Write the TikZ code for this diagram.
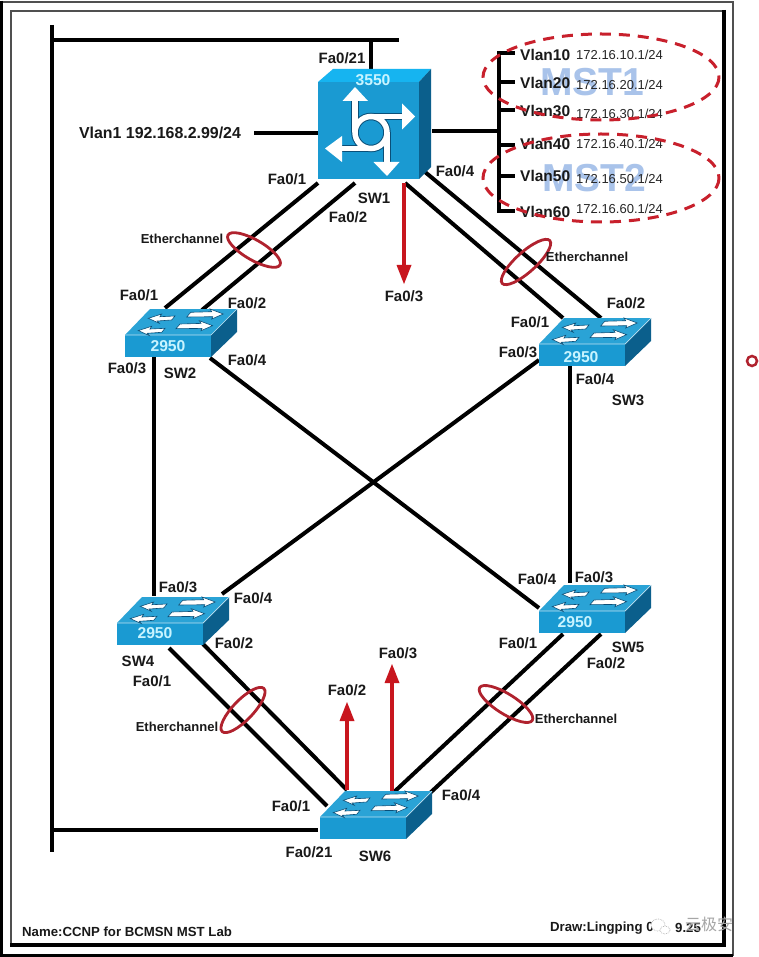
\documentclass[tikz,border=0pt]{standalone}
\usepackage{fontspec}
\setmainfont{Liberation Sans}
\newfontfamily\cjkwm{Noto Sans CJK SC}
\definecolor{ciscotop}{HTML}{2AA3D6}
\definecolor{ciscofront}{HTML}{1A9AD2}
\definecolor{ciscoside}{HTML}{0B5F8C}
\definecolor{ciscotoptwo}{HTML}{16B4F0}
\definecolor{ciscodark}{HTML}{0A4F78}
\definecolor{numtext}{HTML}{C8F4FF}
\definecolor{redline}{HTML}{C8161E}
\definecolor{ringred}{HTML}{B0222E}
\definecolor{dashred}{HTML}{C8202C}
\definecolor{msttext}{HTML}{A9C3EA}
\definecolor{framegray}{HTML}{505050}
\tikzset{
  lab/.style={inner sep=0pt,font=\fontsize{15}{15}\selectfont\bfseries,text=black!90},
  widelab/.style={inner sep=0pt,font=\fontsize{15.9}{15.9}\selectfont\bfseries,text=black!90},
  vlanlab/.style={inner sep=0pt,anchor=west,font=\fontsize{15.5}{15.5}\selectfont\bfseries,text=black!90},
  iplab/.style={inner sep=0pt,anchor=west,font=\fontsize{13}{13}\selectfont,text=black!85},
  echlab/.style={inner sep=0pt,font=\fontsize{13}{13}\selectfont\bfseries,text=black!90},
  footlab/.style={inner sep=0pt,anchor=west,font=\fontsize{13.2}{13.2}\selectfont\bfseries,text=black!90},
  numlab/.style={inner sep=0pt,font=\fontsize{15.7}{15.7}\selectfont\bfseries,text=numtext},
  mstlab/.style={inner sep=0pt,font=\fontsize{39}{39}\selectfont\bfseries,text=msttext},
  link/.style={draw=black,line width=4pt},
  redarrow/.style={draw=redline,line width=4pt},
  redhead/.style={fill=redline},
  ethring/.style={draw=ringred,line width=2.8pt},
  mstring/.style={draw=dashred,line width=3pt,dash pattern=on 11pt off 8pt},
  swarrow/.style={fill=white,draw=ciscodark,line width=.6pt},
}
% 2950 switch: #1 node name, #2 #3 front-bottom-left corner
\newcommand{\catsw}[3]{%
  \begin{scope}[shift={(#2,#3)}]
    \fill[ciscotop] (0,-22) -- (25,-48) -- (112,-48) -- (86,-22) -- cycle;
    \fill[ciscoside] (86,-22) -- (112,-48) -- (112,-25) -- (86,0) -- cycle;
    \fill[ciscofront] (0,-22) rectangle (86,0);
    \draw[white!70!ciscotop,line width=.7pt] (0,-22) -- (86,-22) -- (112,-48);
    \foreach \dx/\dy in {0/0,-10/12.3}{
      \draw[swarrow,shift={(\dx,\dy)}] (23.3,-38.7) -- (36.7,-43) -- (35,-40.3) -- (50,-41) -- (46.7,-37) -- (32.3,-36) -- (34.3,-33.7) -- cycle;
    }
    \foreach \dx/\dy in {0/0,-10.7/11.7}{
      \draw[swarrow,shift={(\dx,\dy)}] (65.7,-44.7) -- (86.7,-45.3) -- (85,-48) -- (98.3,-43) -- (86.7,-38) -- (87.7,-40.3) -- (61.7,-40) -- cycle;
    }
    \node[inner sep=0pt,minimum width=86pt,minimum height=22pt] (#1) at (43,-11) {};
  \end{scope}}
\begin{document}
\begin{tikzpicture}[x=1pt,y=-1pt]
\useasboundingbox (0,0) rectangle (759,957);
\fill[white] (0,0) rectangle (759,957);
% frames
\draw[framegray,line width=2.5pt] (2,2) rectangle (733,955);
\draw[black,line width=3.5pt] (1.5,1) -- (1.5,955.5) -- (733,955.5);
\draw[framegray,line width=2.5pt] (11,11) rectangle (724,945);
\draw[black,line width=4pt] (724,10) -- (724,945) -- (10,945);

% MST captions under everything else
\node[mstlab] (mstone) at (592,82) {MST1};
\node[mstlab] (msttwo) at (594,178) {MST2};

% ports
\coordinate (busTopEnd) at (52,25);
\coordinate (busCorner) at (52,40);
\coordinate (busBottom) at (52,852);
\coordinate (busJoin) at (52,830);
\coordinate (busEnd) at (399,40);
\coordinate (busStub) at (371,40);
\coordinate (busSix) at (318,830);
\coordinate (swoneTop) at (371,69);
\coordinate (vlanOneFree) at (254,133);
\coordinate (swoneLeft) at (318,133);
\coordinate (swoneRight) at (432,131);
\coordinate (vbusJoin) at (499,131);
\coordinate (vbusTop) at (499,51);
\coordinate (vbusBottom) at (499,213);
\foreach \n/\y in {a/53,b/82,c/110,d/145,e/176,f/211}{
  \coordinate (st\n) at (499,\y);
  \coordinate (se\n) at (515,\y);
}
\coordinate (pa) at (318,183); \coordinate (pb) at (165,308);
\coordinate (pc) at (355,183); \coordinate (pd) at (202,310);
\coordinate (pe) at (405,183); \coordinate (pf) at (563,318);
\coordinate (pg) at (425,172); \coordinate (ph) at (601,318);
\coordinate (pi) at (154,357); \coordinate (pj) at (154,596);
\coordinate (pk) at (570,366); \coordinate (pl) at (570,583);
\coordinate (pm) at (210,358); \coordinate (pn) at (539,608);
\coordinate (po) at (539,360); \coordinate (pp) at (222,594);
\coordinate (pq) at (169,648); \coordinate (pr) at (327,806);
\coordinate (ps) at (203,644); \coordinate (pt) at (347,790);
\coordinate (pu) at (563,634); \coordinate (pv) at (393,793);
\coordinate (pw) at (601,634); \coordinate (px) at (430,793);

% black connectors
\draw[link] (busTopEnd) -- (busBottom);
\draw[link] (busJoin) -- (busSix);
\draw[link] (busCorner) -- (busEnd);
\draw[link] (busStub) -- (swoneTop);
\draw[link] (vlanOneFree) -- (swoneLeft);
\draw[link] (swoneRight) -- (vbusJoin);
\draw[link] (vbusTop) -- (vbusBottom);
\foreach \n in {a,b,c,d,e,f}{\draw[link] (st\n) -- (se\n);}
\draw[link] (pa) -- (pb);
\draw[link] (pc) -- (pd);
\draw[link] (pe) -- (pf);
\draw[link] (pg) -- (ph);
\draw[link] (pi) -- (pj);
\draw[link] (pk) -- (pl);
\draw[link] (pm) -- (pn);
\draw[link] (po) -- (pp);
\draw[link] (pq) -- (pr);
\draw[link] (ps) -- (pt);
\draw[link] (pu) -- (pv);
\draw[link] (pw) -- (px);

% red arrows
\coordinate (ra) at (404,183); \coordinate (rb) at (404,270);
\coordinate (rc) at (347,790); \coordinate (rd) at (347,716);
\coordinate (re) at (392,792); \coordinate (rf) at (392,678);
\draw[redarrow] (ra) -- (rb);
\draw[redarrow] (rc) -- (rd);
\draw[redarrow] (re) -- (rf);
\fill[redhead] (396.5,265) -- (411.5,265) -- (404,284) -- cycle;
\fill[redhead] (339.5,721) -- (354.5,721) -- (347,702) -- cycle;
\fill[redhead] (384.5,683) -- (399.5,683) -- (392,664) -- cycle;

% SW1 (3550)
\fill[ciscotoptwo] (318,82) -- (333,69) -- (431,69) -- (419,82) -- cycle;
\fill[ciscoside] (419,82) -- (431,69) -- (431,167) -- (419,179) -- cycle;
\fill[ciscofront] (318,82) rectangle (419,179);
\node[inner sep=0pt,minimum width=101pt,minimum height=97pt] (swone) at (368.5,130.5) {};
\foreach \c/\w in {ciscodark/7.5,white/5.5}{
  \draw[\c,line width=\w pt] (371,132.5) circle (16);
  \draw[\c,line width=\w pt] (355,132.5) -- (355,100);
  \draw[\c,line width=\w pt] (371,116.5) -- (403,116.5);
  \draw[\c,line width=\w pt] (387,132.5) -- (387,163);
  \draw[\c,line width=\w pt] (371,148.5) -- (341,148.5);
}
\fill[white] (342.5,101) -- (368,101) -- (355,87) -- cycle;
\fill[white] (402,103.5) -- (402,129.5) -- (415,116.5) -- cycle;
\fill[white] (373.5,162) -- (399.5,162) -- (387,176) -- cycle;
\fill[white] (342,136) -- (342,162) -- (325,148.5) -- cycle;
\node[numlab] (modelone) at (373,80) {3550};

% 2950 switches
\catsw{swtwo}{125}{357}
\catsw{swthree}{539}{366}
\catsw{swfour}{117}{645}
\catsw{swfive}{539}{633}
\catsw{swsix}{320}{839}
\node[numlab] (modeltwo) at (168,346) {2950};
\node[numlab] (modelthree) at (581,357) {2950};
\node[numlab] (modelfour) at (155,633) {2950};
\node[numlab] (modelfive) at (575,622) {2950};

% Etherchannel rings
\draw[ethring,rotate around={-30:(254,250)}] (254,250) ellipse (30 and 10);
\draw[ethring,rotate around={42:(526,262)}] (526,262) ellipse (32 and 10);
\draw[ethring,rotate around={46:(243,710)}] (243,710) ellipse (30 and 10);
\draw[ethring,rotate around={-32:(506,704)}] (506,704) ellipse (31 and 10);

% labels
\node[lab] (aa) at (342,58) {Fa0/21};
\node[widelab] (ab) at (160,133) {Vlan1 192.168.2.99/24};
\node[lab] (ac) at (287,179) {Fa0/1};
\node[lab] (ad) at (374,198) {SW1};
\node[lab] (ae) at (348,217) {Fa0/2};
\node[lab] (af) at (455,171) {Fa0/4};
\node[lab] (ag) at (404,296) {Fa0/3};
\node[echlab] (ah) at (182,239) {Etherchannel};
\node[echlab] (ai) at (587,257) {Etherchannel};
\node[echlab] (aj) at (177,727) {Etherchannel};
\node[echlab] (ak) at (576,719) {Etherchannel};
\node[lab] (al) at (139,295) {Fa0/1};
\node[lab] (am) at (247,303) {Fa0/2};
\node[lab] (an) at (127,368) {Fa0/3};
\node[lab] (ao) at (180,373) {SW2};
\node[lab] (ap) at (247,360) {Fa0/4};
\node[lab] (aq) at (626,303) {Fa0/2};
\node[lab] (ar) at (530,322) {Fa0/1};
\node[lab] (as) at (518,352) {Fa0/3};
\node[lab] (at) at (595,379) {Fa0/4};
\node[lab] (au) at (628,400) {SW3};
\node[lab] (av) at (178,587) {Fa0/3};
\node[lab] (aw) at (253,598) {Fa0/4};
\node[lab] (ax) at (234,643) {Fa0/2};
\node[lab] (ay) at (138,661) {SW4};
\node[lab] (az) at (152,681) {Fa0/1};
\node[lab] (ba) at (537,579) {Fa0/4};
\node[lab] (bb) at (594,577) {Fa0/3};
\node[lab] (bc) at (518,643) {Fa0/1};
\node[lab] (bd) at (628,647) {SW5};
\node[lab] (be) at (606,663) {Fa0/2};
\node[lab] (bf) at (291,806) {Fa0/1};
\node[lab] (bg) at (461,795) {Fa0/4};
\node[lab] (bh) at (309,852) {Fa0/21};
\node[lab] (bi) at (375,856) {SW6};
\node[lab] (bj) at (347,690) {Fa0/2};
\node[lab] (bk) at (398,653) {Fa0/3};

% Vlans
\node[vlanlab] (va) at (520,55) {Vlan10};
\node[vlanlab] (vb) at (520,83) {Vlan20};
\node[vlanlab] (vc) at (520,111) {Vlan30};
\node[vlanlab] (vd) at (520,144) {Vlan40};
\node[vlanlab] (ve) at (520,176) {Vlan50};
\node[vlanlab] (vf) at (520,212) {Vlan60};
\node[iplab] (ia) at (576,55) {172.16.10.1/24};
\node[iplab] (ib) at (576,85) {172.16.20.1/24};
\node[iplab] (ic) at (576,114) {172.16.30.1/24};
\node[iplab] (id) at (576,144) {172.16.40.1/24};
\node[iplab] (ie) at (576,179) {172.16.50.1/24};
\node[iplab] (if) at (576,209) {172.16.60.1/24};

% MST rings
\draw[mstring] (601,77) ellipse (118 and 43);
\draw[mstring] (601,178) ellipse (118 and 44);

% stray red mark
\draw[ringred,line width=2.5pt] (752,361) circle (5);

% footer
\node[footlab] (fa) at (22,932) {Name:CCNP for BCMSN MST Lab};
\node[footlab] (fb) at (550,928) {Draw:Lingping 0};
\node[footlab] (fc) at (675,928) {9.25};
% watermark
\draw[gray!60,line width=.7pt,densely dotted,fill=white] (658,925) ellipse (7 and 6);
\draw[gray!60,line width=.7pt,densely dotted,fill=white] (665,930) ellipse (5 and 4);
\node[inner sep=0pt,anchor=west,font=\cjkwm\fontsize{16}{16}\selectfont,text=gray!70] (wm) at (685,924) {云极安};
\end{tikzpicture}
\end{document}
